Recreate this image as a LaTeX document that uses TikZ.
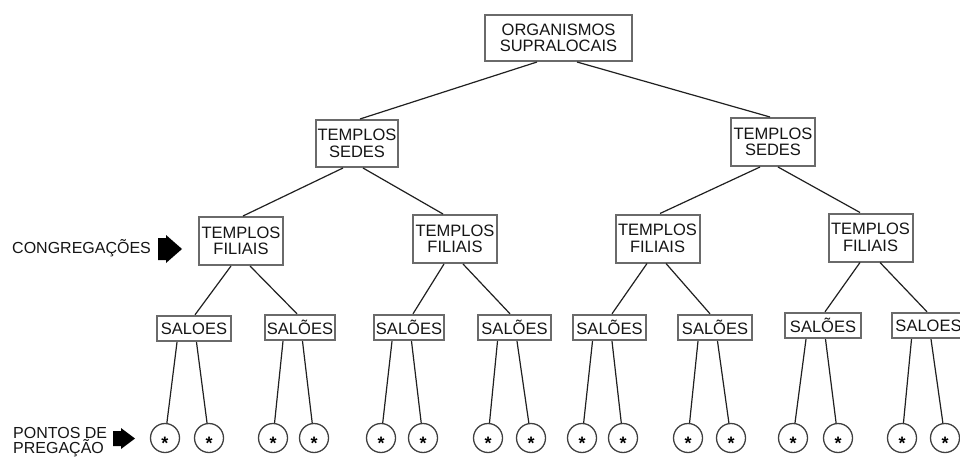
\documentclass[tikz,border=0pt]{standalone}
\usepackage{fontspec}
\setmainfont{Liberation Sans}
\usetikzlibrary{calc}
\definecolor{boxgray}{HTML}{6A6A6A}
\definecolor{textc}{HTML}{151515}
\definecolor{linec}{HTML}{202020}
\definecolor{circgray}{HTML}{404040}
\newcommand{\boxfont}{\fontsize{16.5}{16.5}\selectfont}
\newcommand{\lblfont}{\fontsize{16}{15}\selectfont}
\newcommand{\starglyph}{\raisebox{-11pt}[0pt][0pt]{\fontsize{18}{18}\selectfont\bfseries *}}
\tikzset{
  box/.style={draw=boxgray, line width=2pt, fill=white, align=center, inner sep=0pt, font=\boxfont, text=textc},
  salbox/.style={box, line width=2.4pt, minimum height=25},
  filbox/.style={box, minimum width=84, minimum height=48},
  ptc/.style={circle, draw=circgray, line width=1.3pt, minimum size=29, inner sep=0pt, fill=white},
  link/.style={draw=linec, line width=1.2pt},
  lbl/.style={inner sep=0pt, font=\lblfont, text=textc},
}
\begin{document}
\begin{tikzpicture}[x=1pt,y=-1pt]
\fill[white] (0,0) rectangle (960,457);
\useasboundingbox (0,0) rectangle (960,457);

% boxes
\node[box, minimum width=147, minimum height=46] (org) at (558.5,38) {ORGANISMOS\\SUPRALOCAIS};
\node[box, minimum width=82, minimum height=47] (sl) at (357,143.5) {TEMPLOS\\SEDES};
\node[box, minimum width=84, minimum height=48] (sr) at (773,142) {TEMPLOS\\SEDES};
\node[filbox] (f1) at (241,241) {TEMPLOS\\FILIAIS};
\node[filbox] (f2) at (455,239) {TEMPLOS\\FILIAIS};
\node[filbox] (f3) at (657.5,238.5) {TEMPLOS\\FILIAIS};
\node[filbox] (f4) at (870.5,237.5) {TEMPLOS\\FILIAIS};

\node[salbox, minimum width=74] (s1) at (194,328.5) {SALOES};
\node[salbox, minimum width=70] (s2) at (300,327.5) {SALÕES};
\node[salbox, minimum width=70] (s3) at (409,327.5) {SALÕES};
\node[salbox, minimum width=73] (s4) at (514.5,327.5) {SALÕES};
\node[salbox, minimum width=73] (s5) at (609.5,327.5) {SALÕES};
\node[salbox, minimum width=74] (s6) at (715,327.5) {SALÕES};
\node[salbox, minimum width=76] (s7) at (823,325.5) {SALÕES};
\node[salbox, minimum width=73] (s8) at (928.5,325.5) {SALOES};

% circles
\foreach \i/\x in {1/165,2/209,3/273,4/314,5/381,6/423,7/488,8/531,9/582,10/623,11/688,12/731,13/793,14/838,15/902,16/945}{
  \node[ptc] (c\i) at (\x,438) {\starglyph};
}

% connectors between boxes
\draw[link] ($(org.south)+(-21.5,0)$) -- ($(sl.north)+(3,0)$);
\draw[link] ($(org.south)+(18.5,0)$) -- ($(sr.north)+(-3,0)$);
\draw[link] ($(sl.south)+(-14,0)$) -- ($(f1.north)+(2,0)$);
\draw[link] ($(sl.south)+(6,0)$) -- ($(f2.north)+(-12,0)$);
\draw[link] ($(sr.south)+(-13,0)$) -- ($(f3.north)+(2.5,0)$);
\draw[link] ($(sr.south)+(5,0)$) -- ($(f4.north)+(-10.5,0)$);
\draw[link] ($(f1.south)+(-10,0)$) -- ($(s1.north)+(1,0)$);
\draw[link] ($(f1.south)+(9,0)$) -- ($(s2.north)+(-3,0)$);
\draw[link] ($(f2.south)+(-11,0)$) -- ($(s3.north)+(4,0)$);
\draw[link] ($(f2.south)+(8,0)$) -- ($(s4.north)+(-4.5,0)$);
\draw[link] ($(f3.south)+(-10.5,0)$) -- ($(s5.north)+(2.5,0)$);
\draw[link] ($(f3.south)+(8.5,0)$) -- ($(s6.north)+(-5,0)$);
\draw[link] ($(f4.south)+(-10.5,0)$) -- ($(s7.north)+(2,0)$);
\draw[link] ($(f4.south)+(9.5,0)$) -- ($(s8.north)+(-1.5,0)$);

% connectors from salões to points
\foreach \s/\a/\b in {1/1/2,2/3/4,3/5/6,4/7/8,5/9/10,6/11/12,7/13/14,8/15/16}{
  \draw[link] ($(s\s.south)+(-17,0)$) -- (c\a);
  \draw[link] ($(s\s.south)+(2.5,0)$) -- (c\b);
}

% side labels
\node[lbl, anchor=west] (cong) at (12,248) {CONGREGAÇÕES};
\node[lbl, anchor=north west, align=left] (pont) at (13,427) {PONTOS DE\\PREGAÇÃO};

% block arrows
\fill[black] (158,238) -- (166,238) -- (166,235) -- (182,249) -- (166,263) -- (166,260) -- (158,260) -- cycle;
\fill[black] (113,431) -- (121,431) -- (121,428) -- (135,438.5) -- (121,449) -- (121,446) -- (113,446) -- cycle;
\end{tikzpicture}
\end{document}
